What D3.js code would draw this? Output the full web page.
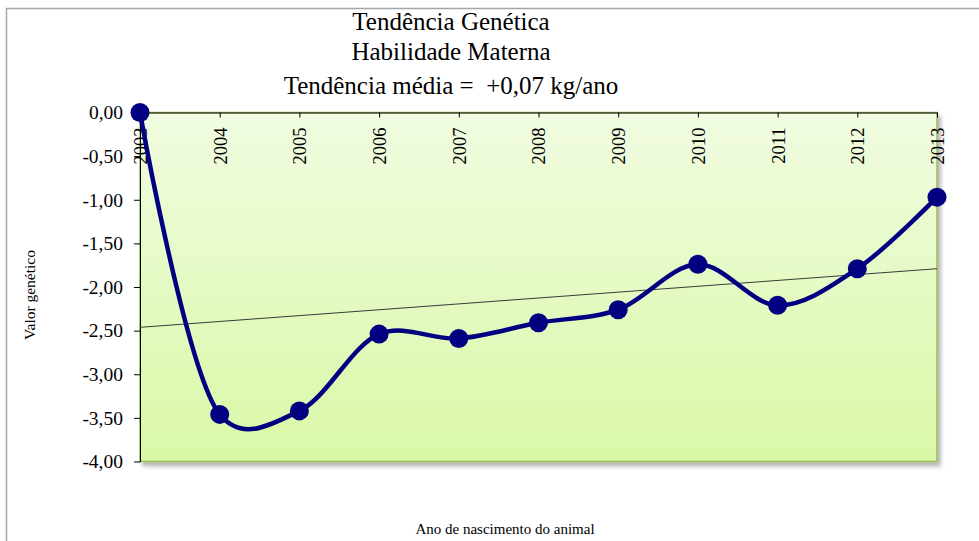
<!DOCTYPE html>
<html>
<head>
<meta charset="utf-8">
<script src="https://cdn.jsdelivr.net/npm/d3@7"></script>
<style>
  body { margin: 0; background: #fff; }
</style>
</head>
<body>
<svg id="chart" width="979" height="541"></svg>
<script>
const years = [2003, 2004, 2005, 2006, 2007, 2008, 2009, 2010, 2011, 2012, 2013];
const values = [0, -3.46, -3.42, -2.54, -2.59, -2.41, -2.26, -1.74, -2.21, -1.79, -0.97];
const yTicks = [0, -0.5, -1, -1.5, -2, -2.5, -3, -3.5, -4];
const titleLines = ['Tendência Genética', 'Habilidade Materna', 'Tendência média =  +0,07 kg/ano'];
const yTitle = 'Valor genético';
const xTitle = 'Ano de nascimento do animal';

const serif = 'Liberation Serif, Times New Roman, DejaVu Serif, serif';

const svg = d3.select('#chart')
  .attr('font-family', serif);
const plot = { left: 140, right: 937, top: 112.5, bottom: 461.5 };

const defs = svg.append('defs');
const grad = defs.append('linearGradient')
  .attr('id', 'bg').attr('x1', 0).attr('y1', 0).attr('x2', 0).attr('y2', 1);
grad.append('stop').attr('offset', '0%').attr('stop-color', '#f1fce1');
grad.append('stop').attr('offset', '100%').attr('stop-color', '#d9f8a6');

const shadow = defs.append('filter').attr('id', 'shadow')
  .attr('x', '-5%').attr('y', '-5%').attr('width', '110%').attr('height', '110%');
shadow.append('feDropShadow')
  .attr('dx', 3).attr('dy', 4).attr('stdDeviation', 2)
  .attr('flood-color', '#000').attr('flood-opacity', 0.3);

// outer chart border
svg.append('rect')
  .attr('x', 6.5).attr('y', 8.5)
  .attr('width', 1000).attr('height', 600)
  .attr('fill', 'none')
  .attr('stroke', '#a6a6a6')
  .attr('stroke-width', 1.5);

const x = d3.scaleLinear().domain([years[0], years[years.length - 1]]).range([plot.left, plot.right]);
const y = d3.scaleLinear().domain([-4, 0]).range([plot.bottom, plot.top]);

// plot area
svg.append('rect')
  .attr('x', plot.left).attr('y', plot.top)
  .attr('width', plot.right - plot.left)
  .attr('height', plot.bottom - plot.top)
  .attr('fill', 'url(#bg)')
  .attr('stroke', '#9bbb59')
  .attr('stroke-width', 1.5)
  .attr('filter', 'url(#shadow)');

const fmt = v => v.toFixed(2).replace('.', ',');

// y axis
const yAxis = svg.append('g')
  .attr('transform', `translate(${plot.left},0)`)
  .call(d3.axisLeft(y).tickValues(yTicks).tickFormat(fmt).tickSize(6).tickSizeOuter(0).tickPadding(11))
  .attr('font-family', serif)
  .attr('font-size', 19.5);
yAxis.selectAll('line, path').attr('stroke', '#000');
yAxis.selectAll('text').attr('fill', '#000');

// x axis along the top (value 0)
const xAxis = svg.append('g')
  .attr('transform', `translate(0,${plot.top})`)
  .call(d3.axisBottom(x).tickValues(years).tickFormat(d3.format('d')).tickSize(5).tickSizeOuter(0))
  .attr('font-family', serif)
  .attr('font-size', 18.5);
xAxis.selectAll('line, path').attr('stroke', '#000');
xAxis.selectAll('text')
  .attr('fill', '#000')
  .attr('transform', 'rotate(-90)')
  .attr('x', -15)
  .attr('y', 0)
  .attr('dy', '0.35em')
  .attr('text-anchor', 'end');

// trend line (least squares)
const mx = d3.mean(years);
const my = d3.mean(values);
const slope = d3.sum(years, (yr, i) => (yr - mx) * (values[i] - my)) / d3.sum(years, yr => (yr - mx) ** 2);
const trend = yr => my + slope * (yr - mx);
svg.append('line')
  .attr('x1', x(years[0])).attr('y1', y(trend(years[0])))
  .attr('x2', x(years[years.length - 1])).attr('y2', y(trend(years[years.length - 1])))
  .attr('stroke', '#3a3a3a')
  .attr('stroke-width', 1);

// series
const pts = years.map((yr, i) => ({ year: yr, value: values[i] }));
const line = d3.line()
  .x(d => x(d.year))
  .y(d => y(d.value))
  .curve(d3.curveCatmullRom.alpha(0.25));

svg.append('path')
  .datum(pts)
  .attr('d', line)
  .attr('fill', 'none')
  .attr('stroke', '#000080')
  .attr('stroke-width', 4.5);

svg.selectAll('.dot')
  .data(pts)
  .enter()
  .append('circle')
    .attr('class', 'dot')
    .attr('cx', d => x(d.year))
    .attr('cy', d => y(d.value))
    .attr('r', 9.5)
    .attr('fill', '#000080');

// titles
const titleY = [30, 60, 94];
svg.append('text')
  .attr('text-anchor', 'middle')
  .attr('font-size', 25)
  .selectAll('tspan')
  .data(titleLines)
  .enter()
  .append('tspan')
    .attr('x', 451)
    .attr('y', (d, i) => titleY[i])
    .style('white-space', 'pre')
    .text(d => d);

svg.append('text')
  .attr('transform', 'translate(35,295) rotate(-90)')
  .attr('text-anchor', 'middle')
  .attr('font-size', 15.5)
  .text(yTitle);

svg.append('text')
  .attr('x', 505)
  .attr('y', 534)
  .attr('text-anchor', 'middle')
  .attr('font-size', 15)
  .text(xTitle);
</script>
</body>
</html>
